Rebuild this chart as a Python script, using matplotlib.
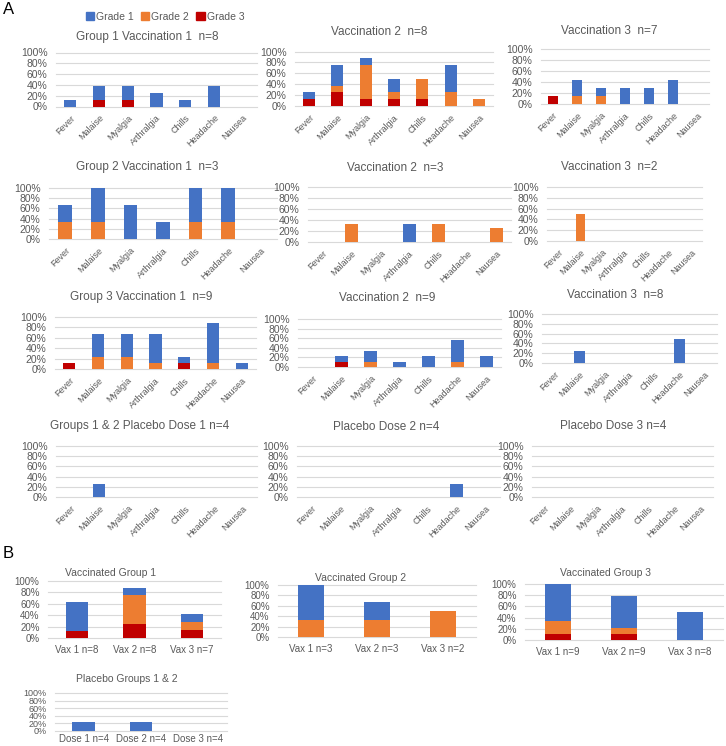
import numpy as np
import matplotlib
matplotlib.use('Agg')
import matplotlib.pyplot as plt
from matplotlib.patches import Patch

plt.rcParams['font.family'] = ['Liberation Sans', 'DejaVu Sans']

W, H = 726, 746
blue = '#4472C4'
orange = '#ED7D31'
red = '#C00000'
txt = '#595959'
grid = '#D9D9D9'

symptoms = ['Fever', 'Malaise', 'Myalgia', 'Arthralgia', 'Chills', 'Headache', 'Nausea']
vax_g1 = ['Vax 1 n=8', 'Vax 2 n=8', 'Vax 3 n=7']
vax_g2 = ['Vax 1 n=3', 'Vax 2 n=3', 'Vax 3 n=2']
vax_g3 = ['Vax 1 n=9', 'Vax 2 n=9', 'Vax 3 n=8']
doses = ['Dose 1 n=4', 'Dose 2 n=4', 'Dose 3 n=4']

# percent of participants, grade 1 / grade 2 / grade 3
g1v1_gr1 = [12.5, 25, 25, 25, 12.5, 37.5, 0]
g1v1_gr2 = [0, 0, 0, 0, 0, 0, 0]
g1v1_gr3 = [0, 12.5, 12.5, 0, 0, 0, 0]

g1v2_gr1 = [12.5, 37.5, 12.5, 25, 0, 50, 0]
g1v2_gr2 = [0, 12.5, 62.5, 12.5, 37.5, 25, 12.5]
g1v2_gr3 = [12.5, 25, 12.5, 12.5, 12.5, 0, 0]

g1v3_gr1 = [0, 28.6, 14.3, 28.6, 28.6, 42.9, 0]
g1v3_gr2 = [0, 14.3, 14.3, 0, 0, 0, 0]
g1v3_gr3 = [14.3, 0, 0, 0, 0, 0, 0]

g2v1_gr1 = [33.3, 66.7, 66.7, 33.3, 66.7, 66.7, 0]
g2v1_gr2 = [33.3, 33.3, 0, 0, 33.3, 33.3, 0]
g2v1_gr3 = [0, 0, 0, 0, 0, 0, 0]

g2v2_gr1 = [0, 0, 0, 33.3, 0, 0, 0]
g2v2_gr2 = [0, 33.3, 0, 0, 33.3, 0, 25]
g2v2_gr3 = [0, 0, 0, 0, 0, 0, 0]

g2v3_gr1 = [0, 0, 0, 0, 0, 0, 0]
g2v3_gr2 = [0, 50, 0, 0, 0, 0, 0]
g2v3_gr3 = [0, 0, 0, 0, 0, 0, 0]

g3v1_gr1 = [0, 44.4, 44.4, 55.6, 11.1, 77.8, 11.1]
g3v1_gr2 = [0, 22.2, 22.2, 11.1, 0, 11.1, 0]
g3v1_gr3 = [11.1, 0, 0, 0, 11.1, 0, 0]

g3v2_gr1 = [0, 11.1, 22.2, 11.1, 22.2, 44.4, 22.2]
g3v2_gr2 = [0, 0, 11.1, 0, 0, 11.1, 0]
g3v2_gr3 = [0, 11.1, 0, 0, 0, 0, 0]

g3v3_gr1 = [0, 25, 0, 0, 0, 50, 0]
g3v3_gr2 = [0, 0, 0, 0, 0, 0, 0]
g3v3_gr3 = [0, 0, 0, 0, 0, 0, 0]

pd1_gr1 = [0, 25, 0, 0, 0, 0, 0]
pd2_gr1 = [0, 0, 0, 0, 0, 25, 0]
pd3_gr1 = [0, 0, 0, 0, 0, 0, 0]
zeros7 = [0, 0, 0, 0, 0, 0, 0]

# panel B (any symptom)
bg1_gr1 = [50, 12.5, 14.3]
bg1_gr2 = [0, 50, 14.3]
bg1_gr3 = [12.5, 25, 14.3]
bg2_gr1 = [66.7, 33.3, 0]
bg2_gr2 = [33.3, 33.3, 50]
bg2_gr3 = [0, 0, 0]
bg3_gr1 = [66.7, 55.6, 50]
bg3_gr2 = [22.2, 11.1, 0]
bg3_gr3 = [11.1, 11.1, 0]
bp_gr1 = [25, 25, 0]
zeros3 = [0, 0, 0]

fig = plt.figure(figsize=(W / 100, H / 100), dpi=100)


def panel(box, cats, gr1, gr2, gr3, title, tpos, width=0.42, rot=True,
          yfs=7.5, xfs=6.5, tfs=8.5, xpad=5):
    l, r, t, b = box
    ax = fig.add_axes([l / W, 1 - b / H, (r - l) / W, (b - t) / H])
    x = np.arange(len(cats))
    v3 = np.array(gr3) / 100
    v2 = np.array(gr2) / 100
    v1 = np.array(gr1) / 100
    ax.bar(x, v3, width, color=red, zorder=3)
    ax.bar(x, v2, width, bottom=v3, color=orange, zorder=3)
    ax.bar(x, v1, width, bottom=v3 + v2, color=blue, zorder=3)
    ax.set_xlim(-0.5, len(cats) - 0.5)
    ax.set_ylim(0, 1)
    ax.set_yticks(np.linspace(0, 1, 6))
    ax.set_yticklabels(['0%', '20%', '40%', '60%', '80%', '100%'])
    ax.yaxis.grid(True, color=grid, lw=0.8)
    ax.set_axisbelow(True)
    for s in ax.spines.values():
        s.set_visible(False)
    ax.set_xticks(x)
    if rot:
        ax.set_xticklabels(cats, rotation=45, ha='right', rotation_mode='anchor')
    else:
        ax.set_xticklabels(cats)
    ax.tick_params(axis='y', length=0, pad=6, labelsize=yfs, labelcolor=txt)
    ax.tick_params(axis='x', length=0, pad=xpad, labelsize=xfs, labelcolor=txt)
    for gl in ax.get_ygridlines():
        gl.set_clip_on(False)
    fig.text(tpos[0] / W, 1 - tpos[1] / H, title, ha='center', va='center',
             fontsize=tfs, color=txt)
    return ax


# panel A
panel((56, 257, 52.5, 106.5), symptoms, g1v1_gr1, g1v1_gr2, g1v1_gr3,
      'Group 1 Vaccination 1  n=8', (147, 37))
panel((295, 493, 51.5, 106), symptoms, g1v2_gr1, g1v2_gr2, g1v2_gr3,
      'Vaccination 2  n=8', (379, 32))
panel((541, 709, 49, 104), symptoms, g1v3_gr1, g1v3_gr2, g1v3_gr3,
      'Vaccination 3  n=7', (609, 31))

panel((49, 277, 188, 239), symptoms, g2v1_gr1, g2v1_gr2, g2v1_gr3,
      'Group 2 Vaccination 1  n=3', (147, 167))
panel((308, 511, 187, 242), symptoms, g2v2_gr1, g2v2_gr2, g2v2_gr3,
      'Vaccination 2  n=3', (395, 168))
panel((547, 702, 187, 241), symptoms, g2v3_gr1, g2v3_gr2, g2v3_gr3,
      'Vaccination 3  n=2', (609, 167))

panel((55, 256, 317, 369), symptoms, g3v1_gr1, g3v1_gr2, g3v1_gr3,
      'Group 3 Vaccination 1  n=9', (141, 297))
panel((298, 501, 319, 367), symptoms, g3v2_gr1, g3v2_gr2, g3v2_gr3,
      'Vaccination 2  n=9', (387, 298))
panel((542, 717, 314, 363), symptoms, g3v3_gr1, g3v3_gr2, g3v3_gr3,
      'Vaccination 3  n=8', (615, 295))

panel((56, 257, 446, 497), symptoms, pd1_gr1, zeros7, zeros7,
      'Groups 1 & 2 Placebo Dose 1 n=4', (140, 426))
panel((297, 500, 446, 497), symptoms, pd2_gr1, zeros7, zeros7,
      'Placebo Dose 2 n=4', (386, 427))
panel((532, 713, 446, 497), symptoms, pd3_gr1, zeros7, zeros7,
      'Placebo Dose 3 n=4', (613, 426))

# panel B
panel((48, 221, 581, 638), vax_g1, bg1_gr1, bg1_gr2, bg1_gr3,
      'Vaccinated Group 1', (111, 573), width=0.39, rot=False, yfs=7, xfs=7, tfs=7.5)
panel((278, 476, 585, 637), vax_g2, bg2_gr1, bg2_gr2, bg2_gr3,
      'Vaccinated Group 2', (361, 578), width=0.4, rot=False, yfs=7, xfs=7, tfs=7.5)
panel((525, 723, 584, 640), vax_g3, bg3_gr1, bg3_gr2, bg3_gr3,
      'Vaccinated Group 3', (606, 573), width=0.4, rot=False, yfs=7, xfs=7, tfs=7.5)
panel((55, 227, 693, 731), doses, bp_gr1, zeros3, zeros3,
      'Placebo Groups 1 & 2', (127, 679), width=0.4, rot=False, yfs=6.5, xfs=7,
      tfs=7.5, xpad=2)

fig.text(3 / W, 1 - 10 / H, 'A', fontsize=12, va='center', ha='left')
fig.text(3 / W, 1 - 553 / H, 'B', fontsize=12, va='center', ha='left')

handles = [Patch(color=blue, label='Grade 1'), Patch(color=orange, label='Grade 2'),
           Patch(color=red, label='Grade 3')]
fig.legend(handles=handles, loc='center', bbox_to_anchor=(165 / W, 1 - 17 / H),
           ncol=3, frameon=False, fontsize=7.5, handlelength=0.8, handleheight=0.8,
           handletextpad=0.2, columnspacing=0.7, labelcolor=txt)

fig.savefig('out.png', dpi=100)
